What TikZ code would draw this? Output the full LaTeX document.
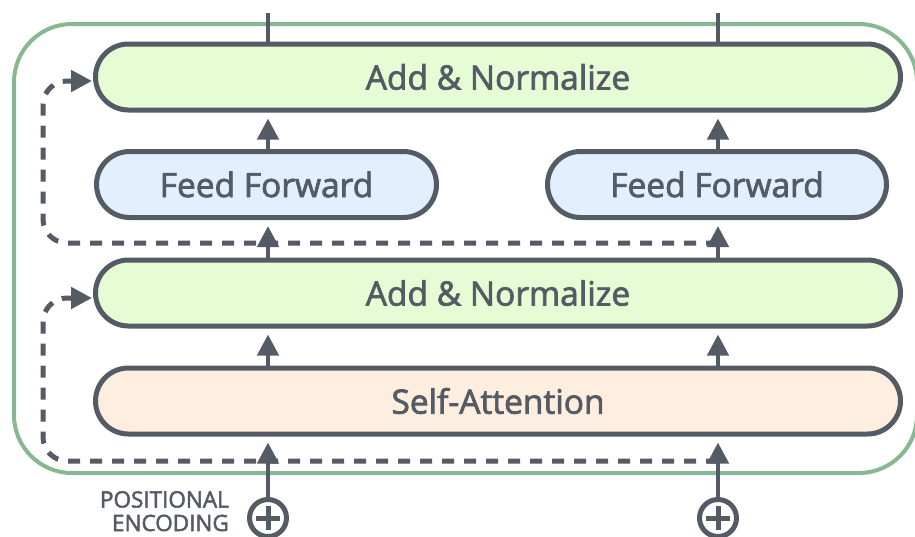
\documentclass[tikz,border=0pt]{standalone}
\usepackage{fontspec}
\setmainfont{Open Sans}
\newfontfamily\heavy{Open Sans}[FakeBold=2.2]
\usetikzlibrary{shapes.misc,arrows.meta}
\definecolor{ink}{HTML}{545B64}
\definecolor{grn}{HTML}{88B893}
\definecolor{anfill}{HTML}{E5FCD4}
\definecolor{fffill}{HTML}{E2EFFE}
\definecolor{safill}{HTML}{FDEEDF}
\begin{document}
\begin{tikzpicture}[x=1pt,y=-1pt,
  layer/.style={rounded rectangle, draw=ink, line width=5pt, minimum height=66pt,
    inner sep=0pt, text=ink, font=\heavy\fontsize{33.5}{40}\selectfont},
  flow/.style={draw=ink, line width=4.5pt, -{Triangle[width=21pt,length=21pt]}, shorten >=6pt},
  plain/.style={draw=ink, line width=4.5pt},
  skip/.style={draw=ink, line width=5pt, dash pattern=on 12pt off 10pt,
    rounded corners=24pt, -{Triangle[width=21pt,length=21pt]}},
  adder/.style={circle, draw=ink, line width=5pt, minimum size=37pt, inner sep=0pt},
  label/.style={text=ink, font=\heavy\fontsize{22.5}{23.5}\selectfont, align=right, inner sep=0pt}
]
\useasboundingbox (0,0) rectangle (915,536);
% outer encoder frame
\draw[grn, line width=4pt, rounded corners=58pt] (14,24) rectangle (917,473);

% columns
\coordinate (c1) at (268,13);
\coordinate (c2) at (718,13);

% layers
\node[layer, fill=anfill, minimum width=805pt] (an1) at (498,77) {Add \& Normalize};
\node[layer, fill=fffill, minimum width=340pt] (ff1) at (266.5,184.5) {Feed Forward};
\node[layer, fill=fffill, minimum width=339pt] (ff2) at (717,184.5) {Feed Forward};
\node[layer, fill=anfill, minimum width=805pt] (an2) at (498,293) {Add \& Normalize};
\node[layer, fill=safill, minimum width=805pt] (sa) at (498,401) {Self-Attention};

% adders
\node[adder] (p1) at (268,518) {};
\node[adder] (p2) at (718,518) {};
\foreach \p in {p1,p2}{
  \draw[ink, line width=5pt] ([xshift=-12pt]\p.center) -- ([xshift=12pt]\p.center);
  \draw[ink, line width=5pt] ([yshift=-12pt]\p.center) -- ([yshift=12pt]\p.center);
}
\node[label, anchor=north east] (pe) at (229,491) {POSITIONAL\\ENCODING};

% residual (dashed) connections
\coordinate (d1) at (718,243);
\coordinate (k1) at (43,243);
\coordinate (k2) at (43,81);
\coordinate (d2) at (718,461);
\coordinate (k3) at (43,461);
\coordinate (k4) at (43,298);
\draw[skip] (d1) -- (k1) -- (k2) -- ([yshift=-4pt,xshift=-1pt]an1.west);
\draw[skip] (d2) -- (k3) -- (k4) -- ([yshift=-5pt,xshift=-1pt]an2.west);

% vertical flow
\draw[plain] (c1) -- (an1.north -| c1);
\draw[plain] (c2) -- (an1.north -| c2);
\draw[flow] (ff1.north -| c1) -- (an1.south -| c1);
\draw[flow] (ff2.north -| c2) -- (an1.south -| c2);
\draw[flow] (an2.north -| c1) -- (ff1.south -| c1);
\draw[flow] (an2.north -| c2) -- (ff2.south -| c2);
\draw[flow] (sa.north -| c1) -- (an2.south -| c1);
\draw[flow] (sa.north -| c2) -- (an2.south -| c2);
\draw[flow] (p1) -- (p1 |- sa.south);
\draw[flow] (p2) -- (p2 |- sa.south);
\end{tikzpicture}
\end{document}
